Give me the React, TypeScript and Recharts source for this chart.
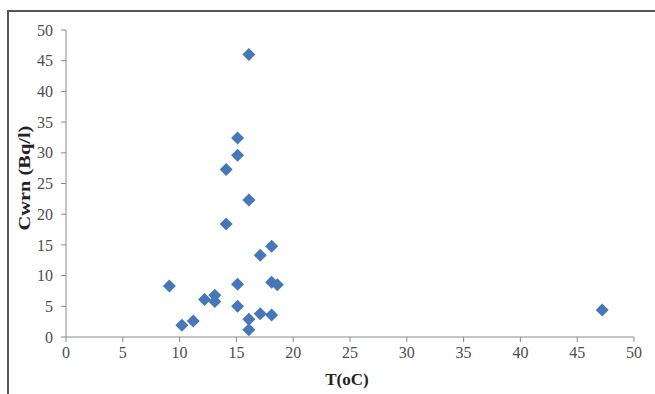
import React from "react";
import {
  ScatterChart,
  Scatter,
  XAxis,
  YAxis,
  Label,
} from "recharts";

// water temperature (°C) and radon concentration (Bq/l) per sample
const temperature = [
  9.1, 10.2, 11.2, 12.2, 13.1, 13.1, 14.1, 14.1, 15.1, 15.1, 15.1, 15.1,
  16.1, 16.1, 16.1, 16.1, 17.1, 17.1, 18.1, 18.1, 18.1, 18.6, 47.2,
];
const cwrn = [
  8.3, 1.9, 2.6, 6.1, 6.8, 5.8, 27.3, 18.4, 32.4, 29.6, 8.6, 5.0,
  46.0, 22.3, 2.9, 1.2, 13.3, 3.8, 14.8, 8.9, 3.6, 8.5, 4.4,
];
const xTicks = [0, 5, 10, 15, 20, 25, 30, 35, 40, 45, 50];
const yTicks = [0, 5, 10, 15, 20, 25, 30, 35, 40, 45, 50];

const points = temperature.map((t, i) => ({ t, c: cwrn[i] }));

const AXIS = "#8a8a8a";
const TICK_TEXT = { fontFamily: "Liberation Serif", fontSize: 16, fill: "#4d4d4d" };
const TITLE_FONT = "Liberation Serif";

function Diamond(props: any) {
  const { cx, cy } = props;
  const r = 6.5;
  return (
    <polygon
      points={`${cx},${cy - r} ${cx + r},${cy} ${cx},${cy + r} ${cx - r},${cy}`}
      fill="#4677b8"
    />
  );
}

export default function App() {
  return (
    <div
      style={{
        position: "absolute",
        left: 0,
        top: 0,
        width: 655,
        height: 394,
        background: "#fff",
        overflow: "hidden",
      }}
    >
      <div
        style={{
          position: "absolute",
          left: 7,
          top: 10,
          width: 700,
          height: 420,
          borderLeft: "2px solid #555",
          borderTop: "2px solid #555",
        }}
      />
      <div style={{ position: "absolute", left: 0, top: 0 }}>
        <ScatterChart
          width={655}
          height={394}
          margin={{ top: 30, right: 21, bottom: 0, left: 0 }}
        >
          <XAxis
            type="number"
            dataKey="t"
            domain={[0, 50]}
            ticks={xTicks}
            interval={0}
            height={57}
            axisLine={{ stroke: AXIS }}
            tickLine={{ stroke: AXIS }}
            tickSize={5}
            tickMargin={5}
            tick={TICK_TEXT}
          >
            <Label
              content={() => (
                <text
                  x={347}
                  y={385}
                  textAnchor="middle"
                  fontFamily={TITLE_FONT}
                  fontWeight="bold"
                  fontSize={17}
                  fill="#222"
                >
                  T(oC)
                </text>
              )}
            />
          </XAxis>
          <YAxis
            type="number"
            dataKey="c"
            domain={[0, 50]}
            ticks={yTicks}
            interval={0}
            width={66}
            axisLine={{ stroke: AXIS }}
            tickLine={{ stroke: AXIS }}
            tickSize={5}
            tickMargin={8}
            tick={TICK_TEXT}
          >
            <Label
              content={() => (
                <text
                  x={0}
                  y={0}
                  transform="translate(30 178) rotate(-90) scale(1.2 1)"
                  textAnchor="middle"
                  fontFamily={TITLE_FONT}
                  fontWeight="bold"
                  fontSize={17}
                  fill="#222"
                >
                  Cwrn (Bq/l)
                </text>
              )}
            />
          </YAxis>
          <Scatter data={points} shape={Diamond} isAnimationActive={false} />
        </ScatterChart>
      </div>
    </div>
  );
}
